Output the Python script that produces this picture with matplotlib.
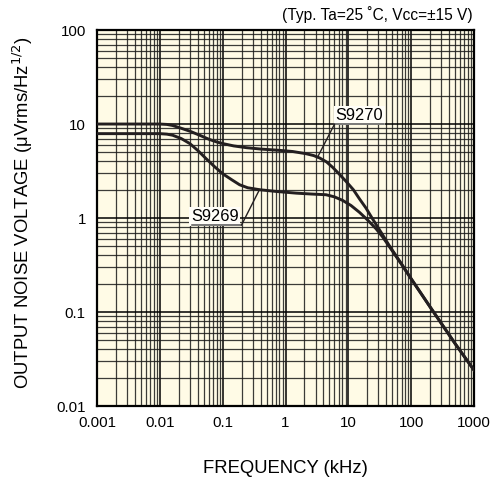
import numpy as np
import matplotlib
matplotlib.use("Agg")
import matplotlib.pyplot as plt
from matplotlib.ticker import LogLocator, FixedLocator, NullFormatter

plt.rcParams['font.family'] = ['Liberation Sans', 'DejaVu Sans']

freq_270 = [0.001, 0.005, 0.01, 0.013, 0.016, 0.02, 0.03, 0.043, 0.06, 0.08, 0.1, 0.15, 0.24,
            0.4, 0.8, 1.3, 2.1, 2.8, 3.5, 4.5, 5.6, 7.0, 9.2, 12, 15, 19, 24, 32, 45, 70,
            100, 200, 500, 1000]
s9270 = [10, 10, 10, 9.9, 9.65, 9.2, 8.4, 7.6, 6.9, 6.45, 6.2, 5.85, 5.6,
         5.42, 5.25, 5.1, 4.84, 4.62, 4.35, 3.95, 3.47, 2.98, 2.45, 2.0, 1.6, 1.28, 0.99, 0.73, 0.505, 0.325,
         0.225, 0.113, 0.046, 0.024]

freq_269 = [0.001, 0.005, 0.01, 0.013, 0.016, 0.022, 0.03, 0.04, 0.055, 0.075, 0.1, 0.14, 0.186,
            0.25, 0.39, 0.7, 1.48, 2.6, 4.4, 6.0, 8.1, 11, 15, 20, 27.5, 35, 45, 70,
            100, 200, 500, 1000]
s9269 = [7.9, 7.9, 7.9, 7.8, 7.6, 7.0, 6.2, 5.25, 4.26, 3.5, 2.96, 2.55, 2.26,
         2.1, 2.0, 1.92, 1.84, 1.8, 1.77, 1.68, 1.54, 1.36, 1.15, 0.96, 0.77, 0.63, 0.495, 0.322,
         0.225, 0.113, 0.046, 0.024]

x_ticks = [0.001, 0.01, 0.1, 1, 10, 100, 1000]
x_labels = ['0.001', '0.01', '0.1', '1', '10', '100', '1000']
y_ticks = [0.01, 0.1, 1, 10, 100]
y_labels = ['0.01', '0.1', '1', '10', '100']

fig = plt.figure(figsize=(4.97, 4.84), dpi=100)
ax = fig.add_axes([0.195, 0.161, 0.759, 0.777])
ax.set_facecolor('#fffbe6')
ax.set_xscale('log')
ax.set_yscale('log')
ax.set_xlim(0.001, 1000)
ax.set_ylim(0.01, 100)

ax.xaxis.set_major_locator(FixedLocator(x_ticks))
ax.set_xticklabels(x_labels)
ax.yaxis.set_major_locator(FixedLocator(y_ticks))
ax.set_yticklabels(y_labels)
ax.xaxis.set_minor_locator(LogLocator(base=10, subs=np.arange(2, 10), numticks=20))
ax.yaxis.set_minor_locator(LogLocator(base=10, subs=np.arange(2, 10), numticks=20))
ax.xaxis.set_minor_formatter(NullFormatter())
ax.yaxis.set_minor_formatter(NullFormatter())
ax.tick_params(which='both', length=0, labelsize=10.9)
ax.tick_params(axis='x', pad=7)
ax.tick_params(axis='y', pad=8)

ax.grid(which='major', color='black', linewidth=1.1)
ax.grid(which='minor', color='#1a1a1a', linewidth=0.9, alpha=0.85)
ax.set_axisbelow(True)
for sp in ax.spines.values():
    sp.set_linewidth(1.6)
    sp.set_color('black')

ax.plot(freq_270, s9270, color='#231f20', linewidth=2.1, zorder=3,
        solid_joinstyle='round', solid_capstyle='round')
ax.plot(freq_269, s9269, color='#231f20', linewidth=2.1, zorder=3,
        solid_joinstyle='round', solid_capstyle='round')

# S9270 label
ax.text(15, 12.4, 'S9270', fontsize=11.8, ha='center', va='center', zorder=6,
        bbox=dict(boxstyle='square,pad=0.12', fc='#fffef8', ec='none'))
ax.plot([6.0, 37.2], [9.93, 9.93], color='#555555', lw=1.1, zorder=6)
ax.plot([6.0, 3.22], [9.93, 4.42], color='#231f20', lw=1.0, zorder=6)

# S9269 label
ax.text(0.0746, 1.04, 'S9269', fontsize=11.8, ha='center', va='center', zorder=6,
        bbox=dict(boxstyle='square,pad=0.12', fc='#fffef8', ec='none'))
ax.plot([0.0322, 0.2], [0.845, 0.845], color='#555555', lw=1.1, zorder=6)
ax.plot([0.2, 0.386], [0.845, 2.01], color='#231f20', lw=1.0, zorder=6)

fig.text(0.951, 0.969, '(Typ. Ta=25 \u02daC, Vcc=\u00b115 V)', ha='right', va='center', fontsize=11.2)
fig.text(0.574, 0.033, 'FREQUENCY (kHz)', ha='center', va='center', fontsize=13.3)
fig.text(0.047, 0.56, 'OUTPUT NOISE VOLTAGE (\u03bcVrms/Hz$^{1/2}$)', rotation=90,
         ha='center', va='center', fontsize=13.3)

fig.savefig('out.png', dpi=100, facecolor='white')
